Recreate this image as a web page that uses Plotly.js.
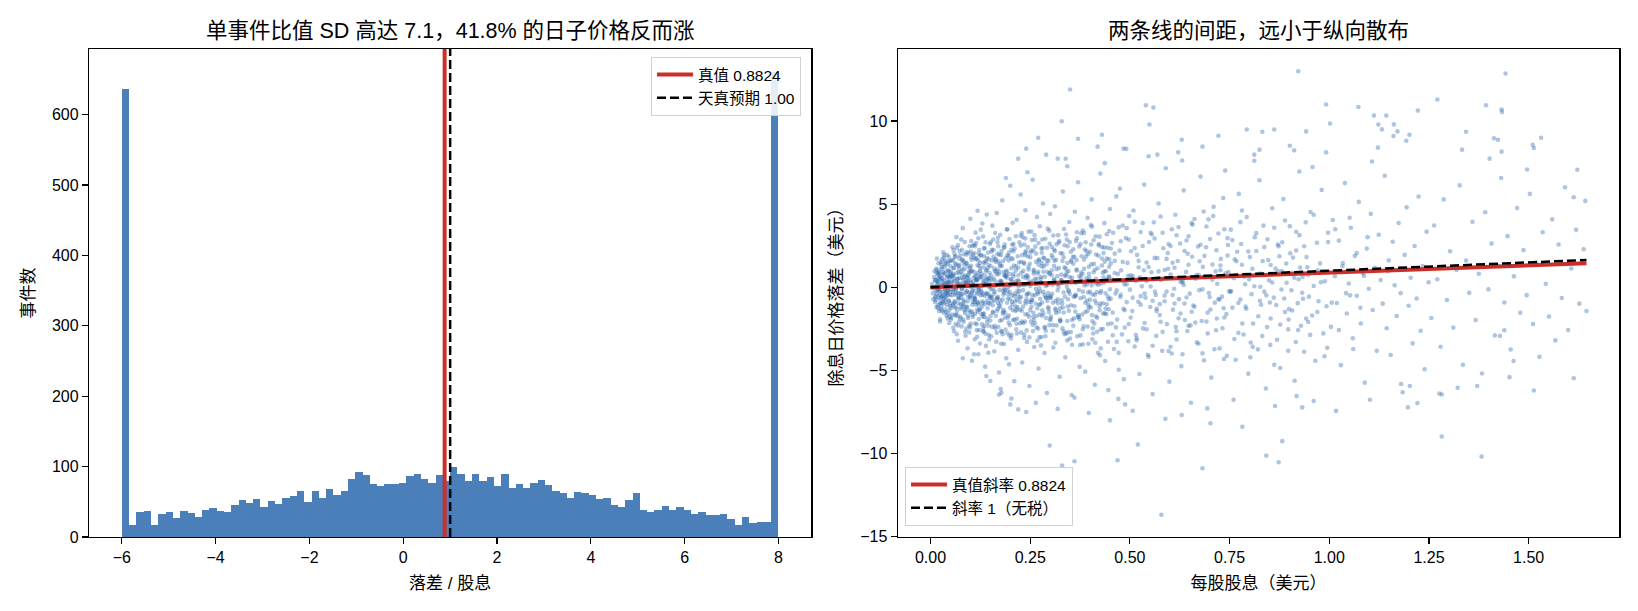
<!DOCTYPE html>
<html><head><meta charset="utf-8">
<script src="https://cdn.plot.ly/plotly-3.0.1.min.js"></script>
<style>html,body{margin:0;padding:0;background:#fff}#chart{width:1638px;height:611px}</style>
</head><body><div id="chart"></div>
<script>
// ---------- data ----------
const histLo = -6, histHi = 8;
const histCounts = [
 636,17,35,37,17,32,35,27,37,34,
 28,39,41,37,35,45,52,48,54,42,
 51,47,55,58,65,49,66,55,68,59,
 66,82,92,88,75,72,75,75,76,86,
 89,82,76,88,79,99,89,79,89,79,
 85,72,89,69,75,69,76,81,74,66,
 62,56,64,62,59,54,56,45,42,52,
 62,39,35,38,44,39,42,38,32,36,
 31,31,32,25,17,28,20,21,21,660];
const truthValue = 0.8824;
const naiveValue = 1.00;
const truthSlope = 0.8824;
const naiveSlope = 1.0;

const ptsNearZero = [[0.004,0.21],[0.006,-0.35],[0.009,0.62],[0.011,-0.88],[0.013,0.05],[0.014,1.12],[0.016,-0.41],[0.018,0.33],[0.019,-1.25],[0.021,0.74],[0.022,-0.12],[0.024,0.48],[0.025,-0.67],[0.027,1.38],[0.028,-0.95],[0.029,0.17],[0.031,-0.29],[0.032,0.91],[0.033,-1.52],[0.034,0.39],[0.036,-0.08],[0.037,1.61],[0.038,-0.57],[0.039,0.26],[0.041,-1.07],[0.042,0.68],[0.043,-0.22],[0.044,1.03],[0.045,-0.78],[0.046,0.12],[0.047,-1.36],[0.048,0.55],[0.049,-0.46],[0.050,1.27],[0.007,-0.71],[0.012,0.44],[0.017,-0.16],[0.020,1.45],[0.023,-1.02],[0.026,0.09],[0.030,-0.52],[0.035,0.83],[0.040,-1.71],[0.044,0.31],[0.048,-0.09],[0.010,0.97],[0.015,-1.19],[0.021,-0.61],[0.027,0.58],[0.033,1.79],[0.038,-0.33],[0.043,-1.88],[0.046,1.56],[0.005,-0.04],[0.018,0.81],[0.029,-1.41],[0.036,0.19],[0.041,1.94],[0.047,-0.84],[0.024,-2.05],[0.032,2.11],[0.039,-0.01],[0.045,0.72],[0.013,-0.53],[0.019,0.27],[0.028,1.09],[0.034,-0.96],[0.042,-0.37],[0.049,0.64],[0.016,1.73]];
const ptsSmall = [[0.052,-1.83],[0.053,0.66],[0.055,2.41],[0.056,-0.27],[0.058,1.15],[0.059,-2.64],[0.060,0.38],[0.061,-0.91],[0.063,1.87],[0.064,-0.14],[0.065,3.02],[0.066,-1.48],[0.068,0.52],[0.069,-3.21],[0.070,1.29],[0.071,-0.63],[0.073,2.18],[0.074,0.07],[0.075,-1.77],[0.076,0.94],[0.078,-2.35],[0.079,1.61],[0.080,-0.41],[0.081,3.56],[0.083,-1.12],[0.084,0.23],[0.085,-0.86],[0.086,2.73],[0.088,-2.91],[0.089,0.71],[0.090,-0.19],[0.091,1.44],[0.093,-3.67],[0.094,0.35],[0.095,2.06],[0.096,-1.39],[0.098,0.88],[0.099,-0.55],[0.100,4.12],[0.101,-2.18],[0.103,1.01],[0.104,-0.32],[0.105,2.49],[0.106,-1.64],[0.108,0.16],[0.109,-4.03],[0.110,1.78],[0.111,-0.74],[0.113,3.29],[0.114,-1.05],[0.115,0.47],[0.116,-2.57],[0.118,1.33],[0.119,-0.02],[0.120,2.95],[0.121,-1.91],[0.123,0.61],[0.124,-3.38],[0.125,1.92],[0.126,-0.47],[0.128,0.83],[0.129,-2.22],[0.130,3.84],[0.131,-0.95],[0.133,1.21],[0.134,-1.58],[0.135,0.29],[0.136,2.37],[0.138,-2.79],[0.139,0.98],[0.140,-0.36],[0.141,4.38],[0.143,-1.26],[0.144,0.54],[0.145,-3.93],[0.146,1.69],[0.148,-0.61],[0.149,2.61],[0.150,-1.99],[0.054,-0.48],[0.057,1.62],[0.062,-1.21],[0.067,0.19],[0.072,-2.06],[0.077,2.87],[0.082,0.46],[0.087,-1.57],[0.092,0.12],[0.097,-2.71],[0.102,1.83],[0.107,-0.88],[0.112,0.67],[0.117,-1.33],[0.122,2.24],[0.127,-0.23],[0.132,-2.45],[0.137,1.48],[0.142,-0.79],[0.147,0.37],[0.051,0.93],[0.058,-1.01],[0.063,-0.37],[0.069,2.53],[0.074,-1.29],[0.079,-0.08],[0.085,1.36],[0.090,-2.48],[0.095,0.74],[0.100,-0.66],[0.106,1.97],[0.111,-3.12],[0.116,0.41],[0.121,-0.13],[0.126,3.47],[0.131,-1.76],[0.136,-0.52],[0.141,1.04],[0.146,-2.31],[0.149,0.09],[0.060,2.02],[0.066,-2.82],[0.071,0.86],[0.076,-0.42],[0.083,1.55],[0.088,0.28],[0.094,-1.84],[0.099,1.17],[0.104,-4.41],[0.109,0.58],[0.114,2.66],[0.119,-1.47],[0.124,0.97],[0.129,-0.31],[0.134,1.88],[0.139,-3.52],[0.144,2.09],[0.148,-0.99],[0.081,-4.26],[0.118,4.61],[0.137,-4.77]];
const ptsCore = [[0.011,0.42],[0.014,-0.77],[0.017,1.05],[0.020,-0.18],[0.023,0.63],[0.026,-1.31],[0.029,0.36],[0.032,-0.49],[0.035,1.22],[0.038,-0.86],[0.041,0.08],[0.044,-1.58],[0.047,0.97],[0.050,-0.27],[0.053,1.64],[0.056,-1.09],[0.059,0.51],[0.062,-0.44],[0.065,1.38],[0.068,-1.73],[0.071,0.24],[0.074,1.91],[0.077,-0.62],[0.080,0.79],[0.083,-2.07],[0.086,0.13],[0.089,1.47],[0.092,-1.18],[0.095,0.58],[0.098,-0.31],[0.101,2.16],[0.104,-1.46],[0.107,0.33],[0.110,-0.89],[0.113,1.69],[0.116,-2.21],[0.119,0.87],[0.122,-0.15],[0.125,1.12],[0.128,-1.62],[0.131,0.46],[0.134,2.33],[0.137,-0.98],[0.140,0.19],[0.143,-1.87],[0.146,1.34],[0.149,-0.52],[0.152,0.71],[0.155,-2.38],[0.158,1.83],[0.161,-0.26],[0.164,0.94],[0.167,-1.41],[0.170,2.47],[0.173,-0.73],[0.176,0.39],[0.179,-1.96],[0.182,1.57],[0.185,-0.07],[0.188,-2.54],[0.191,1.01],[0.194,-0.67],[0.197,2.09],[0.200,-1.23],[0.013,-0.21],[0.019,0.55],[0.025,-0.93],[0.031,0.77],[0.037,-0.14],[0.043,1.41],[0.049,-1.12],[0.055,0.28],[0.061,-1.67],[0.067,0.89],[0.073,-0.36],[0.079,2.26],[0.085,-1.39],[0.091,0.61],[0.097,-2.31],[0.103,0.97],[0.109,-0.53],[0.115,1.76],[0.121,-1.04],[0.127,0.14],[0.133,-2.64],[0.139,1.58],[0.145,-0.41],[0.151,2.71],[0.157,-1.51],[0.163,0.35],[0.169,-0.94],[0.175,1.29],[0.181,-2.82],[0.187,0.66],[0.193,1.93],[0.199,-0.29],[0.015,0.88],[0.022,-1.44],[0.029,1.67],[0.036,-0.63],[0.043,0.31],[0.051,-1.94],[0.058,1.18],[0.064,-0.07],[0.072,0.56],[0.078,-1.21],[0.084,1.99],[0.093,-0.84],[0.099,0.43],[0.106,-1.78],[0.112,2.48],[0.118,-0.38],[0.124,1.46],[0.130,-1.15],[0.136,0.72],[0.142,-2.09],[0.148,0.04],[0.154,1.62],[0.160,-0.81],[0.166,-2.73],[0.172,0.93],[0.178,2.18],[0.184,-1.37],[0.190,0.22],[0.196,-1.69],[0.057,-2.43],[0.066,2.38],[0.087,-2.67],[0.102,2.79],[0.117,-2.97],[0.132,3.06],[0.147,-3.14],[0.162,3.27],[0.177,-3.39],[0.192,3.48],[0.070,-0.97],[0.094,1.26],[0.108,-0.12],[0.123,-1.35],[0.138,0.48],[0.153,-0.58],[0.168,1.07],[0.183,-0.44],[0.198,0.81]];
const ptsExtraA = [[0.021,0.93],[0.023,-0.44],[0.026,1.52],[0.028,-1.17],[0.031,0.07],[0.033,-0.72],[0.036,1.36],[0.039,-1.49],[0.041,0.58],[0.044,-0.19],[0.046,1.84],[0.049,-0.97],[0.052,0.34],[0.054,-1.63],[0.057,0.82],[0.059,-0.05],[0.062,1.41],[0.065,-1.26],[0.067,0.49],[0.070,-0.58],[0.072,1.73],[0.075,-1.88],[0.077,0.21],[0.080,1.08],[0.082,-0.76],[0.085,0.63],[0.087,-1.34],[0.090,1.97],[0.092,-0.28],[0.095,-1.71],[0.097,0.95],[0.100,-0.47],[0.102,1.29],[0.105,-1.05],[0.107,0.16],[0.110,2.05],[0.112,-1.59],[0.115,0.74],[0.117,-0.31],[0.120,1.62],[0.024,-1.92],[0.034,1.95],[0.047,-2.14],[0.058,2.24],[0.069,-2.29],[0.079,-0.13],[0.089,0.39],[0.099,-2.41],[0.109,2.56],[0.119,-0.92],[0.030,0.51],[0.040,-0.36],[0.050,0.78],[0.060,-0.83],[0.071,1.11],[0.081,-1.01],[0.091,0.27],[0.101,0.02],[0.111,-0.64],[0.118,0.47]];
const ptsExtraE = [[0.012,-0.62],[0.015,0.41],[0.018,-1.08],[0.022,0.86],[0.025,-0.27],[0.028,1.21],[0.031,-0.84],[0.034,0.12],[0.037,-1.33],[0.040,0.97],[0.043,-0.48],[0.046,0.33],[0.049,1.58],[0.052,-1.24],[0.055,0.69],[0.058,-0.15],[0.061,1.82],[0.064,-1.67],[0.067,0.28],[0.070,-0.71],[0.073,1.34],[0.076,-1.02],[0.079,0.57],[0.082,-1.93],[0.085,1.09],[0.088,-0.36],[0.091,2.12],[0.094,-0.58],[0.097,0.14],[0.100,-1.49],[0.103,1.66],[0.106,-0.23],[0.109,0.92],[0.112,-2.17],[0.115,0.45],[0.118,-0.89],[0.121,2.03],[0.124,-1.31],[0.127,0.67],[0.130,-0.44],[0.133,1.49],[0.136,-2.32],[0.139,0.21],[0.142,1.76],[0.145,-0.96],[0.148,0.58],[0.151,-1.71],[0.154,2.26],[0.157,-0.11],[0.160,1.13],[0.163,-2.48],[0.166,0.79],[0.169,-0.57],[0.172,1.97],[0.175,-1.18],[0.178,0.36],[0.181,-0.74],[0.184,2.39],[0.187,-1.55],[0.190,0.92],[0.193,-0.19],[0.196,1.61],[0.199,-2.28],[0.202,0.49],[0.205,-1.03],[0.208,2.17],[0.211,-0.38],[0.214,1.26],[0.217,-1.89],[0.220,0.72],[0.223,-0.61],[0.226,2.51],[0.229,-2.06],[0.232,0.18],[0.235,1.42],[0.238,-0.85],[0.241,-2.59],[0.244,1.87],[0.247,0.31],[0.250,-1.37],[0.253,2.22],[0.256,-0.47],[0.259,0.96],[0.262,-2.14],[0.265,1.53],[0.268,-0.29],[0.271,2.67],[0.274,-1.64],[0.277,0.63],[0.280,-0.91],[0.283,1.79],[0.286,-2.43],[0.289,0.08],[0.292,2.38],[0.295,-1.19],[0.298,0.84],[0.301,-0.53],[0.304,1.94],[0.307,-2.61],[0.310,0.44],[0.313,-1.27],[0.316,2.59],[0.319,-0.72],[0.322,1.17],[0.325,-1.93],[0.328,0.27],[0.331,2.04],[0.334,-1.51],[0.337,0.69],[0.340,-2.77],[0.343,1.46],[0.346,-0.18],[0.349,2.73],[0.352,-1.08],[0.355,0.57],[0.358,-2.31],[0.361,1.84],[0.364,-0.44],[0.367,1.02],[0.370,-1.79],[0.373,2.46],[0.376,-0.66],[0.379,0.38],[0.382,-2.52],[0.385,1.67],[0.388,-0.93],[0.391,2.19],[0.394,-1.42],[0.397,0.81],[0.400,-0.27],[0.403,1.38],[0.406,-2.04],[0.409,2.83],[0.412,-0.79],[0.415,0.52],[0.418,-2.67],[0.421,1.91],[0.424,-1.14],[0.427,0.23],[0.430,2.42],[0.433,-1.58],[0.436,0.97],[0.439,-0.36],[0.442,1.73],[0.445,-2.21],[0.448,0.64],[0.017,0.19],[0.027,-0.55],[0.038,1.47],[0.048,-1.76],[0.059,0.73],[0.069,-0.34],[0.080,1.69],[0.090,-1.17],[0.101,0.29],[0.111,-0.68],[0.122,1.28],[0.132,-1.59],[0.143,0.47],[0.153,-0.83],[0.164,1.52],[0.174,-2.01],[0.185,0.74],[0.195,-0.42],[0.206,1.71],[0.216,-1.35],[0.227,0.16],[0.237,2.09],[0.248,-0.88],[0.258,-1.77],[0.269,0.83],[0.279,1.26],[0.290,-0.64],[0.300,-1.98],[0.311,1.59],[0.321,0.04],[0.332,-1.21],[0.342,0.91],[0.353,1.63],[0.363,-1.46],[0.374,0.41],[0.384,-0.58],[0.395,2.01],[0.405,-1.67],[0.416,0.22],[0.426,-0.97],[0.437,1.54],[0.447,-1.32],[0.063,-2.21],[0.098,2.47],[0.133,-2.66],[0.168,2.72],[0.203,-2.86],[0.238,2.94],[0.273,-3.01],[0.308,3.12],[0.343,-3.19],[0.378,3.25],[0.413,-3.33],[0.448,3.39]];
const ptsLow = [[0.151,1.27],[0.152,-2.94],[0.154,0.45],[0.155,3.71],[0.156,-1.08],[0.158,2.26],[0.159,-0.39],[0.160,-3.85],[0.162,1.63],[0.163,0.11],[0.164,-1.71],[0.166,4.47],[0.167,-0.64],[0.168,2.02],[0.170,-2.37],[0.171,0.79],[0.172,-5.12],[0.174,1.38],[0.175,3.16],[0.176,-0.93],[0.178,0.24],[0.179,-2.68],[0.180,5.23],[0.182,-1.46],[0.183,0.92],[0.184,-3.41],[0.186,2.58],[0.187,-0.17],[0.188,1.74],[0.190,-4.26],[0.191,0.58],[0.192,3.49],[0.194,-1.82],[0.195,0.03],[0.196,-2.12],[0.198,2.91],[0.199,-0.72],[0.200,6.11],[0.202,-3.07],[0.203,1.15],[0.204,-0.48],[0.206,3.88],[0.207,-1.97],[0.208,0.66],[0.210,-5.64],[0.211,2.33],[0.212,-0.85],[0.214,1.02],[0.215,-2.53],[0.216,4.06],[0.218,-0.21],[0.219,1.87],[0.220,-3.76],[0.222,0.37],[0.223,2.71],[0.224,-1.34],[0.226,5.58],[0.227,-0.59],[0.228,0.88],[0.230,-4.52],[0.231,3.02],[0.232,-1.16],[0.234,1.49],[0.235,-2.84],[0.236,0.14],[0.238,4.64],[0.239,-0.97],[0.240,2.19],[0.242,-3.28],[0.243,0.71],[0.244,-1.62],[0.246,3.35],[0.247,-0.36],[0.248,-5.93],[0.250,1.81],[0.251,0.27],[0.252,-2.06],[0.254,2.84],[0.255,-0.78],[0.256,6.47],[0.258,-1.53],[0.259,1.06],[0.260,-3.59],[0.262,0.52],[0.263,2.45],[0.264,-0.09],[0.266,-2.41],[0.267,4.23],[0.268,-1.26],[0.270,0.94],[0.271,-4.88],[0.272,1.67],[0.274,3.67],[0.275,-0.69],[0.276,0.31],[0.278,-2.99],[0.279,2.08],[0.280,-1.38],[0.282,5.04],[0.283,-0.27],[0.284,1.26],[0.286,-3.95],[0.287,0.63],[0.288,2.92],[0.290,-1.84],[0.291,0.18],[0.292,-6.36],[0.294,3.53],[0.295,-0.55],[0.296,1.59],[0.298,-2.27],[0.299,0.84],[0.300,4.41],[0.153,-0.62],[0.161,0.98],[0.169,-1.29],[0.177,1.94],[0.185,-0.33],[0.193,-2.76],[0.201,0.47],[0.209,1.31],[0.217,-0.74],[0.225,-2.16],[0.233,0.99],[0.241,-0.44],[0.249,1.42],[0.257,-2.63],[0.265,0.22],[0.273,-1.05],[0.281,2.37],[0.289,-0.61],[0.297,-1.49],[0.157,2.88],[0.165,-3.27],[0.173,-0.16],[0.181,-1.58],[0.189,0.73],[0.197,-4.63],[0.205,2.57],[0.213,-1.42],[0.221,0.06],[0.229,3.27],[0.237,-2.05],[0.245,0.57],[0.253,-1.17],[0.261,3.14],[0.269,-0.38],[0.277,-3.49],[0.285,1.75],[0.293,-0.82],[0.176,-6.12],[0.203,-6.69],[0.264,-6.95],[0.189,6.58],[0.243,6.92]];
const ptsExtraB = [[0.122,-2.58],[0.125,0.62],[0.127,1.93],[0.130,-0.84],[0.133,0.25],[0.135,-1.79],[0.138,2.71],[0.140,-0.37],[0.143,1.16],[0.146,-2.86],[0.148,0.88],[0.151,-0.12],[0.153,2.14],[0.156,-1.47],[0.159,0.53],[0.161,-2.33],[0.164,1.71],[0.166,-0.69],[0.169,2.98],[0.172,-1.11],[0.174,0.34],[0.177,-2.62],[0.179,1.28],[0.182,-0.21],[0.185,2.41],[0.187,-1.83],[0.190,0.67],[0.192,-0.93],[0.195,1.87],[0.198,-2.91],[0.200,0.12],[0.203,2.26],[0.206,-1.36],[0.208,0.81],[0.211,-0.54],[0.214,3.07],[0.216,-2.19],[0.219,0.43],[0.222,1.49],[0.224,-0.88],[0.227,-2.71],[0.230,1.94],[0.232,-0.17],[0.235,2.58],[0.238,-1.62],[0.240,0.71],[0.243,-0.39],[0.246,1.23],[0.248,-3.01],[0.251,2.09],[0.254,-0.74],[0.256,0.38],[0.259,-1.95],[0.262,2.87],[0.264,-0.99],[0.267,0.52],[0.270,-2.48],[0.272,1.61],[0.275,-0.26],[0.278,2.33],[0.280,-1.71],[0.283,0.94],[0.286,-0.47],[0.288,-2.94],[0.291,1.39],[0.294,0.15],[0.296,-1.29],[0.299,2.62],[0.302,-0.63],[0.304,1.02],[0.307,-2.27],[0.310,0.49],[0.312,2.18],[0.315,-1.54],[0.318,0.21],[0.320,-0.96],[0.323,2.79],[0.326,-2.03],[0.328,0.77],[0.331,1.58],[0.334,-0.31],[0.336,-2.82],[0.339,1.14],[0.342,0.03],[0.344,2.47],[0.347,-1.41],[0.349,0.62],[0.128,0.06],[0.171,1.55],[0.218,-1.18]];
const ptsCore2 = [[0.202,1.74],[0.205,-0.86],[0.208,2.61],[0.211,-1.94],[0.214,0.37],[0.217,-2.78],[0.220,1.18],[0.223,-0.23],[0.226,3.12],[0.229,-1.41],[0.232,0.62],[0.235,-3.04],[0.238,1.95],[0.241,-0.71],[0.244,2.43],[0.247,-1.77],[0.250,0.09],[0.253,3.36],[0.256,-2.25],[0.259,0.84],[0.262,-0.48],[0.265,2.03],[0.268,-3.21],[0.271,1.36],[0.274,-1.02],[0.277,0.51],[0.280,2.88],[0.283,-1.58],[0.286,0.26],[0.289,-2.61],[0.292,1.63],[0.295,-0.34],[0.298,3.41],[0.301,-1.89],[0.304,0.73],[0.307,-0.92],[0.310,2.27],[0.313,-3.33],[0.316,1.09],[0.319,-0.18],[0.322,2.69],[0.325,-1.26],[0.328,0.44],[0.331,-2.47],[0.334,1.81],[0.337,-0.57],[0.340,3.18],[0.343,-2.02],[0.346,0.98],[0.349,-0.39],[0.352,2.14],[0.355,-3.45],[0.358,1.42],[0.361,-1.13],[0.364,0.27],[0.367,2.95],[0.370,-1.66],[0.373,0.68],[0.376,-2.89],[0.379,1.87],[0.382,-0.26],[0.385,3.27],[0.388,-1.49],[0.391,0.55],[0.394,-2.36],[0.397,1.24],[0.400,-0.74],[0.403,2.58],[0.406,-3.12],[0.409,0.91],[0.412,-0.45],[0.415,1.97],[0.418,-1.83],[0.421,0.16],[0.424,3.05],[0.427,-2.53],[0.430,1.31],[0.433,-0.96],[0.436,2.39],[0.439,-1.28],[0.442,0.47],[0.445,-3.27],[0.448,1.69],[0.450,-0.11],[0.206,0.31],[0.213,-1.15],[0.219,-0.42],[0.227,1.54],[0.233,-2.14],[0.239,0.58],[0.246,1.07],[0.252,-0.89],[0.258,2.21],[0.266,-1.72],[0.273,-0.06],[0.279,1.48],[0.287,-2.39],[0.293,0.94],[0.299,-0.63],[0.306,1.79],[0.314,-1.37],[0.321,0.22],[0.329,-0.78],[0.336,2.53],[0.344,-2.71],[0.351,0.35],[0.359,-0.57],[0.366,1.64],[0.374,-1.92],[0.381,0.81],[0.389,2.71],[0.396,-1.04],[0.404,0.12],[0.411,-2.17],[0.419,1.15],[0.426,-0.33],[0.434,2.06],[0.441,-1.61],[0.447,0.63]];
const ptsMid = [[0.302,-1.76],[0.304,2.43],[0.306,0.15],[0.308,-3.62],[0.310,1.28],[0.312,4.87],[0.314,-0.83],[0.316,-2.29],[0.318,0.66],[0.320,3.14],[0.322,-1.47],[0.324,-5.38],[0.326,2.06],[0.328,0.42],[0.330,-0.97],[0.332,5.76],[0.334,-2.66],[0.336,1.19],[0.338,-4.21],[0.340,0.73],[0.342,2.87],[0.344,-1.15],[0.346,-0.24],[0.348,3.93],[0.350,-3.08],[0.352,1.54],[0.354,-6.47],[0.356,0.38],[0.358,2.29],[0.360,-1.86],[0.362,4.55],[0.364,-0.51],[0.366,1.07],[0.368,-2.94],[0.370,6.32],[0.372,-0.16],[0.374,-4.78],[0.376,2.61],[0.378,0.89],[0.380,-1.63],[0.382,3.42],[0.384,-2.35],[0.386,0.12],[0.388,-5.07],[0.390,1.86],[0.392,-0.79],[0.394,4.18],[0.396,-3.39],[0.398,0.57],[0.400,2.14],[0.402,-1.21],[0.404,5.29],[0.406,-0.43],[0.408,-2.78],[0.410,1.41],[0.412,-5.86],[0.414,3.07],[0.416,-0.96],[0.418,0.33],[0.420,-3.94],[0.422,2.52],[0.424,-1.38],[0.426,6.84],[0.428,-0.22],[0.430,1.73],[0.432,-2.51],[0.434,0.61],[0.436,3.86],[0.438,-4.43],[0.440,0.97],[0.442,-1.02],[0.444,2.38],[0.446,-6.18],[0.448,1.24],[0.450,4.71],[0.452,-0.68],[0.454,-2.17],[0.456,0.46],[0.458,3.28],[0.460,-3.71],[0.462,1.59],[0.464,-0.37],[0.466,5.47],[0.468,-1.94],[0.470,0.81],[0.472,-4.96],[0.474,2.21],[0.476,-0.58],[0.478,1.02],[0.480,-2.83],[0.482,3.72],[0.484,-1.29],[0.486,0.18],[0.488,-7.04],[0.490,2.96],[0.492,-0.89],[0.494,1.47],[0.496,-3.24],[0.498,4.29],[0.500,-0.14],[0.305,-0.39],[0.315,1.66],[0.325,-2.03],[0.335,3.51],[0.345,-0.72],[0.355,-1.96],[0.365,2.78],[0.375,-3.47],[0.385,1.11],[0.395,-0.31],[0.405,3.65],[0.415,-1.74],[0.425,-4.09],[0.435,0.27],[0.445,-0.55],[0.455,2.67],[0.465,-2.41],[0.475,5.94],[0.485,-5.52],[0.495,0.69],[0.319,-7.31],[0.343,7.28],[0.397,-7.56],[0.437,7.47],[0.361,-6.63],[0.471,-6.71]];
const ptsExtraC = [[0.352,-2.69],[0.357,1.83],[0.362,-0.54],[0.367,3.31],[0.372,-1.77],[0.377,0.64],[0.382,-3.42],[0.387,2.28],[0.392,0.17],[0.397,-1.19],[0.402,3.74],[0.407,-2.46],[0.412,1.06],[0.417,-0.29],[0.422,2.61],[0.427,-3.67],[0.432,0.88],[0.437,-1.56],[0.442,3.19],[0.447,-0.71],[0.452,1.44],[0.457,-2.88],[0.462,2.03],[0.467,-0.18],[0.472,-3.94],[0.477,2.77],[0.482,0.41],[0.487,-1.38],[0.492,3.56],[0.497,-2.21],[0.502,0.73],[0.507,-0.62],[0.512,2.36],[0.517,-3.18],[0.522,1.59],[0.527,-1.04],[0.532,3.87],[0.537,-0.37],[0.542,-2.52],[0.547,1.22],[0.552,0.05],[0.557,-3.51],[0.562,2.94],[0.567,-1.29],[0.572,0.96],[0.577,-2.07],[0.582,3.28],[0.587,-0.84],[0.592,1.71],[0.597,-3.83],[0.602,2.49],[0.607,-0.46],[0.612,1.18],[0.617,-2.64],[0.622,3.63],[0.627,-1.57],[0.632,0.39],[0.637,-0.97],[0.642,2.82],[0.647,-2.31]];
const ptsCore3 = [[0.452,2.34],[0.457,-1.52],[0.462,0.86],[0.467,-3.28],[0.472,3.61],[0.477,-0.44],[0.482,1.53],[0.487,-2.42],[0.492,0.18],[0.497,2.87],[0.502,-1.81],[0.507,0.67],[0.512,3.94],[0.517,-3.06],[0.522,1.21],[0.527,-0.53],[0.532,2.49],[0.537,-2.14],[0.542,0.39],[0.547,-4.17],[0.552,3.28],[0.557,-0.81],[0.562,1.77],[0.567,-1.43],[0.572,0.55],[0.577,4.26],[0.582,-2.68],[0.587,1.04],[0.592,-0.26],[0.597,2.61],[0.602,-3.57],[0.607,1.48],[0.612,-0.97],[0.617,3.13],[0.622,-1.86],[0.627,0.33],[0.632,-4.02],[0.637,2.19],[0.642,-0.61],[0.647,1.36],[0.652,-2.29],[0.657,3.77],[0.662,-1.17],[0.667,0.74],[0.672,-3.39],[0.677,2.56],[0.682,-0.12],[0.687,1.89],[0.692,-2.06],[0.697,4.09],[0.702,-1.33],[0.707,0.46],[0.712,-3.72],[0.717,2.23],[0.722,-0.71],[0.727,1.31],[0.732,-2.46],[0.737,3.49],[0.742,-1.61],[0.747,0.92],[0.752,-0.28],[0.757,2.84],[0.762,-3.11],[0.767,1.57],[0.772,-0.94],[0.777,3.92],[0.782,-2.18],[0.787,0.64],[0.792,-1.29],[0.797,2.16],[0.802,-4.21],[0.807,1.12],[0.812,0.07],[0.817,3.26],[0.822,-1.74],[0.827,0.83],[0.832,-2.93],[0.837,2.42],[0.842,-0.48],[0.847,1.64],[0.852,-3.46],[0.857,0.29],[0.862,3.58],[0.867,-1.06],[0.872,0.97],[0.877,-2.24],[0.882,2.71],[0.887,-0.67],[0.892,1.43],[0.897,-3.81],[0.902,2.05],[0.907,-1.39],[0.912,0.58],[0.917,3.34],[0.922,-2.57],[0.927,1.19],[0.932,-0.33],[0.937,2.47],[0.942,-1.88],[0.947,0.76]];
const ptsUpper = [[0.503,2.17],[0.506,-1.43],[0.509,4.62],[0.512,-3.56],[0.515,0.38],[0.518,1.95],[0.521,-0.87],[0.524,-5.21],[0.527,3.33],[0.530,0.06],[0.533,-2.47],[0.536,6.18],[0.539,-0.62],[0.542,1.49],[0.545,-4.06],[0.548,2.73],[0.551,-1.18],[0.554,0.91],[0.557,-6.42],[0.560,3.91],[0.563,-0.26],[0.566,-2.92],[0.569,1.76],[0.572,5.04],[0.575,-1.67],[0.578,0.44],[0.581,-3.82],[0.584,2.35],[0.587,-0.49],[0.590,7.16],[0.593,-2.21],[0.596,1.12],[0.599,-5.67],[0.602,0.77],[0.605,3.49],[0.608,-1.34],[0.611,-0.08],[0.614,4.37],[0.617,-3.14],[0.620,1.58],[0.623,-0.71],[0.626,2.64],[0.629,-4.74],[0.632,0.29],[0.635,5.83],[0.638,-1.96],[0.641,0.93],[0.644,-2.63],[0.647,3.07],[0.650,-0.38],[0.653,-6.94],[0.656,1.84],[0.659,-1.09],[0.662,4.11],[0.665,0.52],[0.668,-3.31],[0.671,2.46],[0.674,-0.17],[0.677,6.66],[0.680,-2.02],[0.683,1.23],[0.686,-4.39],[0.689,0.68],[0.692,3.66],[0.695,-1.52],[0.698,-0.34],[0.701,2.91],[0.704,-5.43],[0.707,1.37],[0.710,4.84],[0.713,-0.92],[0.716,-2.58],[0.719,0.21],[0.722,3.24],[0.725,-3.67],[0.728,1.71],[0.731,-0.56],[0.734,5.37],[0.737,-1.81],[0.740,0.84],[0.743,-4.12],[0.746,2.55],[0.749,-0.23],[0.507,-7.42],[0.547,7.88],[0.589,-7.91],[0.631,7.63],[0.694,-7.28],[0.739,7.02],[0.515,-2.86],[0.535,1.03],[0.555,3.18],[0.575,-1.01],[0.595,2.07],[0.615,-2.39],[0.635,0.14],[0.655,-1.47],[0.675,1.57],[0.695,-2.77],[0.715,0.96],[0.735,-1.26],[0.525,0.61],[0.565,-0.46],[0.605,-3.98],[0.645,2.02],[0.685,4.56],[0.725,-0.73],[0.745,1.91]];
const ptsExtraD = [[0.655,3.86],[0.664,-2.12],[0.673,0.74],[0.682,-3.97],[0.691,2.41],[0.700,-0.58],[0.709,4.29],[0.718,-1.87],[0.727,1.03],[0.736,-4.31],[0.745,2.96],[0.754,-0.22],[0.763,1.69],[0.772,-2.74],[0.781,4.62],[0.790,-1.16],[0.799,0.48],[0.808,-3.58],[0.817,2.19],[0.826,-0.81],[0.835,3.71],[0.844,-2.39],[0.853,1.34],[0.862,-4.66],[0.871,2.58],[0.880,-0.13],[0.889,4.02],[0.898,-1.94],[0.907,0.87],[0.916,-3.29],[0.925,3.14],[0.934,-0.69],[0.943,1.82],[0.952,-2.86],[0.961,4.37],[0.970,-1.48],[0.979,0.31],[0.988,-4.14],[0.997,2.72],[1.006,-0.92],[1.015,3.49],[1.024,-2.57],[1.033,1.27],[1.042,-0.35],[1.051,4.18],[1.060,-3.71],[1.069,2.06],[1.078,-1.23],[1.087,0.69],[1.096,3.02]];
const ptsHigh = [[0.753,3.47],[0.757,-1.22],[0.761,0.55],[0.765,-4.36],[0.769,2.14],[0.773,5.62],[0.777,-0.73],[0.781,1.36],[0.785,-2.84],[0.789,0.19],[0.793,4.23],[0.797,-5.19],[0.801,1.82],[0.805,-0.41],[0.809,-2.18],[0.813,3.02],[0.817,0.76],[0.821,-3.73],[0.825,6.44],[0.829,-1.05],[0.833,1.58],[0.837,-0.26],[0.841,-6.08],[0.845,2.89],[0.849,0.42],[0.853,-1.87],[0.857,4.76],[0.861,-0.62],[0.865,1.13],[0.869,-3.15],[0.873,2.47],[0.877,-4.85],[0.881,0.98],[0.885,5.31],[0.889,-1.48],[0.893,0.27],[0.897,-2.53],[0.901,3.68],[0.905,-0.18],[0.909,1.79],[0.913,-5.62],[0.917,2.22],[0.921,-0.95],[0.925,6.97],[0.929,-2.31],[0.933,0.63],[0.937,-3.87],[0.941,3.91],[0.945,1.21],[0.949,-0.56],[0.953,4.53],[0.957,-1.69],[0.961,0.08],[0.965,-4.41],[0.969,2.68],[0.973,-0.84],[0.977,1.44],[0.981,5.86],[0.985,-2.77],[0.989,0.37],[0.993,-1.14],[0.997,3.29],[0.760,-6.76],[0.812,7.61],[0.864,-7.14],[0.918,-6.54],[0.958,7.24],[0.779,2.61],[0.803,-3.32],[0.827,0.04],[0.851,-0.91],[0.875,1.87],[0.899,-1.31],[0.923,0.49],[0.947,-2.08],[0.971,1.02],[0.995,-3.64],
 [1.004,-2.38],[1.009,4.05],[1.014,0.67],[1.019,-0.94],[1.024,2.81],[1.029,-4.68],[1.034,1.46],[1.039,6.27],[1.044,-1.57],[1.049,0.23],[1.054,3.58],[1.059,-3.06],[1.064,1.89],[1.069,-0.51],[1.074,5.14],[1.079,-2.17],[1.084,0.86],[1.089,-5.73],[1.094,2.33],[1.099,-0.08],[1.104,4.42],[1.109,-1.36],[1.114,1.17],[1.119,-3.82],[1.124,3.16],[1.129,0.44],[1.134,-0.98],[1.139,6.71],[1.144,-2.46],[1.149,1.62],[1.154,-4.07],[1.159,2.74],[1.164,0.12],[1.169,-1.72],[1.174,3.87],[1.179,-0.35],[1.184,-6.31],[1.189,1.95],[1.194,4.81],[1.199,-1.11],[1.204,0.58],[1.209,-3.37],[1.214,2.49],[1.219,-0.67],[1.224,5.46],[1.229,-2.61],[1.234,1.28],[1.239,-4.93],[1.244,3.35],[1.249,0.31],[1.017,-7.43],[1.107,7.57],[1.197,-7.22],[1.052,-0.48],[1.147,0.97],
 [1.256,-1.84],[1.263,3.72],[1.271,0.49],[1.279,-3.57],[1.287,5.29],[1.295,-0.76],[1.303,2.17],[1.311,-2.42],[1.319,1.04],[1.327,6.13],[1.335,-4.66],[1.343,1.61],[1.351,-0.33],[1.359,3.94],[1.367,-1.97],[1.375,0.82],[1.383,-5.18],[1.391,4.52],[1.399,-0.12],[1.407,2.63],[1.415,-2.89],[1.423,1.29],[1.431,6.58],[1.439,-0.91],[1.447,3.08],[1.455,-3.74],[1.463,0.66],[1.471,4.77],[1.479,-1.53],[1.487,2.24],[1.495,-0.47],[1.503,5.62],[1.511,-2.21],[1.519,1.47],[1.527,-4.18],[1.535,3.31],[1.543,0.21],[1.551,-1.76],[1.559,4.09],[1.567,-3.19],[1.575,2.58],[1.583,-0.64],[1.591,6.02],[1.599,-2.57],[1.607,1.13],[1.619,3.46],[1.627,-0.98],[1.638,2.29],[1.645,-1.42]];
const ptsOutliers = [[0.922,13.0],[1.442,12.86],[0.350,11.9],[0.540,10.95],[0.559,10.81],[0.992,11.0],[1.073,10.85],[1.271,11.3],[1.222,10.63],[1.432,10.69],[1.433,10.55],[1.393,10.95],[0.329,9.99],[0.549,9.79],[1.002,9.85],[1.112,10.33],[1.143,10.33],[1.123,9.79],[1.132,9.5],[1.162,9.8],[1.171,9.38],[1.161,9.1],[1.201,9.18],[1.193,8.82],[1.343,9.36],[1.413,8.96],[1.423,8.88],[1.531,9.0],[1.510,8.58],[1.513,8.38],[0.270,9.0],[0.240,8.34],[0.430,9.18],[0.370,8.94],[0.484,8.34],[0.491,8.33],[0.630,8.88],[0.722,9.12],[0.793,9.49],[0.832,9.36],[0.862,9.49],[0.942,9.38],[0.682,8.46],[0.621,8.12],[0.569,7.98],[0.419,8.46],[0.220,7.74],[0.290,7.98],[0.319,7.74],[0.339,7.73],[0.825,8.28],[0.812,7.98],[0.901,8.52],[0.912,8.24],[0.992,8.12],[1.122,8.4],[1.333,8.28],[1.402,7.74],[1.432,8.16],[1.613,5.42],[1.622,7.07],[1.642,5.2],[1.496,7.09],
 [0.579,-13.68],[0.682,-10.88],[0.330,-10.72],[0.361,-10.46],[0.299,-9.51],[0.469,-10.4],[0.520,-9.45],[0.842,-10.12],[0.873,-10.52],[0.882,-9.25],[1.282,-8.97],[1.382,-10.18],[0.702,-8.17],[0.782,-8.39],[0.450,-8.0],[0.240,-7.5],[0.220,-7.34],[0.200,-7.04],[0.178,-6.34],[0.172,-6.45],[0.140,-5.33],[0.150,-5.63],[0.120,-4.02],[0.630,-7.68],[1.613,-5.47],[1.513,-6.2],[1.462,-4.43],[1.452,-5.4],[1.221,-6.96],[1.276,-6.38],[1.282,-6.44],[1.371,-5.93],[1.322,-6.04],[1.102,-6.76],[1.180,-5.81],[1.202,-5.93],[0.932,-7.22],[0.961,-6.84],[1.439,-2.58],[1.428,-2.92]];

const leftTitle = '单事件比值 SD 高达 7.1，41.8% 的日子价格反而涨';
const rightTitle = '两条线的间距，远小于纵向散布';
const leftXLabel = '落差 / 股息', leftYLabel = '事件数';
const rightXLabel = '每股股息（美元）', rightYLabel = '除息日价格落差（美元）';
const legTruth = '真值 0.8824', legNaive = '天真预期 1.00';
const legTruthSlope = '真值斜率 0.8824', legNaiveSlope = '斜率 1（无税）';

// ---------- build ----------
const FONT = '"Liberation Sans", "Noto Sans CJK SC", sans-serif';
const nBins = histCounts.length;
const binW = (histHi - histLo) / nBins;
const binCenters = histCounts.map((_, i) => histLo + (i + 0.5) * binW);
const yTopLeft = Math.max(...histCounts) * 1.05;

const allPts = [].concat(ptsNearZero, ptsSmall, ptsCore, ptsExtraA, ptsExtraE, ptsLow, ptsExtraB, ptsCore2, ptsMid, ptsExtraC, ptsCore3, ptsUpper, ptsExtraD, ptsHigh, ptsOutliers);
const divX = allPts.map(p => p[0]);
const gapY = allPts.map(p => p[1]);
const xMax = Math.max(...divX), xMin = Math.min(0, ...divX);
const yMax = Math.max(...gapY), yMin = Math.min(...gapY);
const xPad = (xMax - xMin) * 0.05, yPad = (yMax - yMin) * 0.05;
const lineX = [0, xMax];

const RED = '#c9302c';
const traces = [
  {type:'bar', x:binCenters, y:histCounts, width:binW, xaxis:'x', yaxis:'y',
   marker:{color:'#4b7fb9', line:{width:0}}, showlegend:false, hoverinfo:'skip'},
  {type:'scatter', mode:'lines', x:[truthValue, truthValue], y:[0, yTopLeft], xaxis:'x', yaxis:'y',
   line:{color:RED, width:4}, name:legTruth, legend:'legend', hoverinfo:'skip'},
  {type:'scatter', mode:'lines', x:[naiveValue, naiveValue], y:[0, yTopLeft], xaxis:'x', yaxis:'y',
   line:{color:'#000', width:2.5, dash:'9px,4px'}, name:legNaive, legend:'legend', hoverinfo:'skip'},
  {type:'scatter', mode:'markers', x:divX, y:gapY, xaxis:'x2', yaxis:'y2',
   marker:{color:'#2a66ad', size:4.6, opacity:0.38, line:{width:0}}, showlegend:false, hoverinfo:'skip'},
  {type:'scatter', mode:'lines', x:lineX, y:lineX.map(v => truthSlope * v), xaxis:'x2', yaxis:'y2',
   line:{color:RED, width:4}, name:legTruthSlope, legend:'legend2', hoverinfo:'skip'},
  {type:'scatter', mode:'lines', x:lineX, y:lineX.map(v => naiveSlope * v), xaxis:'x2', yaxis:'y2',
   line:{color:'#000', width:2.5, dash:'9px,4px'}, name:legNaiveSlope, legend:'legend2', hoverinfo:'skip'}
];

const W = 1638, H = 611, T = 49, B = 74;
const PH = H - T - B;
const axCommon = {showgrid:false, zeroline:false, showline:true, mirror:true, linecolor:'#000', linewidth:1.2,
  ticks:'outside', ticklen:6, tickwidth:1.2, tickcolor:'#000', tickfont:{family:FONT, size:16, color:'#000'}};
const legCommon = {bgcolor:'rgba(255,255,255,0.85)', bordercolor:'#d0d0d0', borderwidth:1,
  font:{family:FONT, size:15.5, color:'#000'}, tracegroupgap:2, itemwidth:36};
const titleFont = {family:FONT, size:17, color:'#000'};

const layout = {
  width:W, height:H, margin:{l:0, r:0, t:T, b:B}, paper_bgcolor:'#fff', plot_bgcolor:'#fff',
  font:{family:FONT, color:'#000'}, bargap:0, hovermode:false,
  xaxis: Object.assign({}, axCommon, {domain:[89/W, 811.3/W], anchor:'y', range:[histLo - 0.05*(histHi-histLo), histHi + 0.05*(histHi-histLo)],
    tickvals:[-6,-4,-2,0,2,4,6,8], title:{text:leftXLabel, font:titleFont, standoff:11}}),
  yaxis: Object.assign({}, axCommon, {domain:[0,1], anchor:'x', range:[0, yTopLeft], dtick:100,
    title:{text:leftYLabel, font:titleFont, standoff:13}}),
  xaxis2: Object.assign({}, axCommon, {domain:[897.7/W, 1619.3/W], anchor:'y2', range:[xMin - xPad, xMax + xPad],
    tickvals:[0,0.25,0.5,0.75,1,1.25,1.5], tickformat:'.2f', title:{text:rightXLabel, font:titleFont, standoff:11}}),
  yaxis2: Object.assign({}, axCommon, {domain:[0,1], anchor:'x2', range:[yMin - yPad, yMax + yPad],
    tickvals:[-15,-10,-5,0,5,10], title:{text:rightYLabel, font:titleFont, standoff:13}}),
  legend: Object.assign({}, legCommon, {x:801/W, xanchor:'right', y:(H-B-57)/PH, yanchor:'top'}),
  legend2: Object.assign({}, legCommon, {x:905/W, xanchor:'left', y:(H-B-526)/PH, yanchor:'bottom'}),
  annotations:[
    {text:leftTitle, xref:'paper', yref:'paper', x:(89+811.3)/2/W, y:(H-B-31)/PH, xanchor:'center', yanchor:'middle',
     showarrow:false, font:{family:FONT, size:21.5, color:'#000'}},
    {text:rightTitle, xref:'paper', yref:'paper', x:(897.7+1619.3)/2/W, y:(H-B-31)/PH, xanchor:'center', yanchor:'middle',
     showarrow:false, font:{family:FONT, size:21.5, color:'#000'}}
  ]
};

Plotly.newPlot('chart', traces, layout, {displayModeBar:false, staticPlot:true});
</script>
</body></html>
